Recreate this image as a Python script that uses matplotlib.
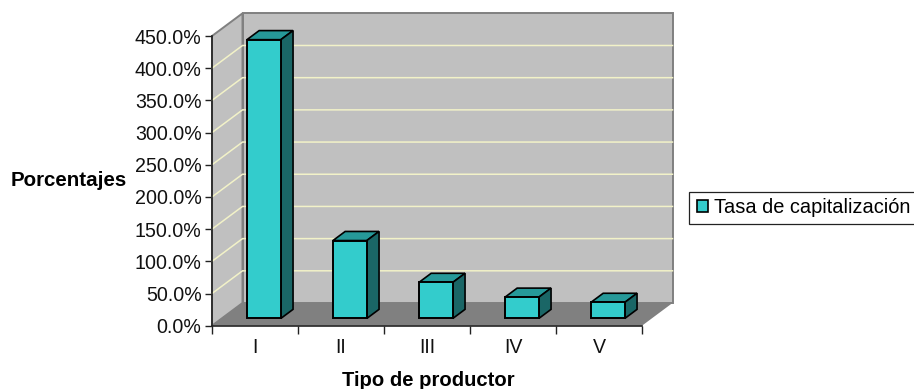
import matplotlib
matplotlib.use("Agg")
import matplotlib.pyplot as plt
from matplotlib.patches import Polygon, Patch, Rectangle

categories = ["I", "II", "III", "IV", "V"]
values = [433, 121, 56, 33, 25]
y_ticks = [0, 50, 100, 150, 200, 250, 300, 350, 400, 450]
series_name = "Tasa de capitalización"
y_title = "Porcentajes"
x_title = "Tipo de productor"

W, H = 914, 389
plt.rcParams["font.family"] = ["Liberation Sans", "DejaVu Sans"]
fig = plt.figure(figsize=(W / 100, H / 100), dpi=100, facecolor="white")
L, R, B, T = 212, 642, 325.7, 36
ax = fig.add_axes([L / W, 1 - B / H, (R - L) / W, (B - T) / H])
ax.set_xlim(0, 5)
ax.set_ylim(0, 450)
ax.patch.set_visible(False)

# oblique depth offsets, in data units
DX = 30.5 / 86
DY = 22.7 / ((B - T) / 450)

def pt(x, y, d=0.0):
    return (x + d * DX, y + d * DY)

def poly(points, fc, ec="none", lw=0.0, z=1):
    ax.add_patch(Polygon(points, closed=True, facecolor=fc, edgecolor=ec,
                         linewidth=lw, zorder=z, clip_on=False, joinstyle="miter"))

wall = "#C0C0C0"
edge = "#808080"
poly([pt(0, 0, 1), pt(5, 0, 1), pt(5, 450, 1), pt(0, 450, 1)], wall, edge, 1.4, 1)
poly([pt(0, 0, 0), pt(0, 0, 1), pt(0, 450, 1), pt(0, 450, 0)], wall, edge, 1.4, 1)
poly([pt(0, 0, 0), pt(5, 0, 0), pt(5, 0, 1), pt(0, 0, 1)], "#808080", "none", 0, 2)

grid = "#F2F2C8"
for v in y_ticks[1:-1]:
    ax.plot(*zip(pt(0, v, 0), pt(0, v, 1), pt(5, v, 1)), color=grid, lw=1.1,
            zorder=2, clip_on=False, solid_joinstyle="miter")

d0, d1 = 0.32, 0.72
hw = 0.197
for i, v in enumerate(values):
    c = i + 0.5 - 0.01
    a, b = c - hw, c + hw
    poly([pt(a, v, d0), pt(b, v, d0), pt(b, v, d1), pt(a, v, d1)], "#269999", "black", 1.2, 5)
    poly([pt(b, 0, d0), pt(b, 0, d1), pt(b, v, d1), pt(b, v, d0)], "#1A6666", "black", 1.2, 5)
    poly([pt(a, 0, d0), pt(b, 0, d0), pt(b, v, d0), pt(a, v, d0)], "#33CCCC", "black", 1.4, 6)

for s in ("top", "right"):
    ax.spines[s].set_visible(False)
for s in ("left", "bottom"):
    ax.spines[s].set_color("#222222")
    ax.spines[s].set_linewidth(1.2)
    ax.spines[s].set_zorder(3)

ax.set_yticks(y_ticks)
ax.set_yticklabels([f"{v:.1f}%" for v in y_ticks], fontsize=14.1, color="#111111")
ax.set_xticks(range(6))
ax.set_xticklabels([])
ax.set_xticks([i + 0.5 for i in range(5)], minor=True)
ax.set_xticklabels(categories, minor=True, fontsize=14.1, color="#111111")
ax.tick_params(axis="x", which="major", length=6, width=1, color="#222222")
ax.tick_params(axis="x", which="minor", length=0, pad=9)
ax.tick_params(axis="y", length=5, width=1, color="#222222", pad=2.5)

fig.text(11 / W, 1 - 180 / H, y_title, fontsize=14.8, fontweight="bold", ha="left", va="center")
fig.text(428.5 / W, 1 - 381 / H, x_title, fontsize=14.6, fontweight="bold", ha="center", va="center")

fig.add_artist(Rectangle((689 / W, 1 - 223.7 / H), 226 / W, 31.7 / H, transform=fig.transFigure,
                         facecolor="white", edgecolor="#222222", linewidth=0.9))
leg = fig.legend(handles=[Patch(facecolor="#33CCCC", edgecolor="black", linewidth=1.2, label=series_name)],
                 loc="center left", bbox_to_anchor=(689 / W, 1 - 208 / H), bbox_transform=fig.transFigure,
                 fontsize=14.4, frameon=False, borderaxespad=0, borderpad=0.39,
                 handlelength=0.55, handleheight=0.55, handletextpad=0.33)

fig.savefig("out.png", dpi=100)
